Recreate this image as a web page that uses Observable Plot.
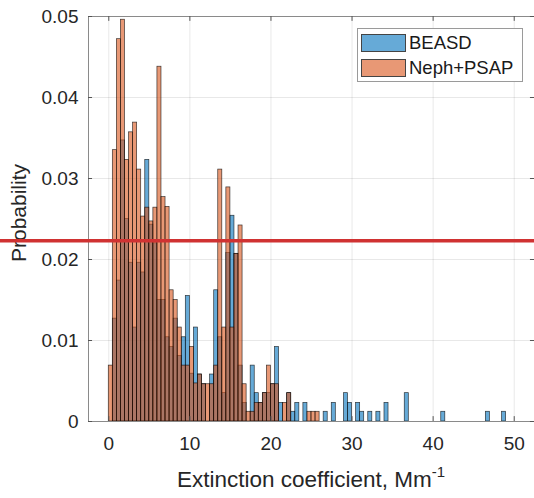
<!DOCTYPE html>
<html>
<head>
<meta charset="utf-8">
<script src="https://cdn.jsdelivr.net/npm/d3@7"></script>
<script src="https://cdn.jsdelivr.net/npm/@observablehq/plot@0.6"></script>
<style>
  html, body { margin: 0; padding: 0; background: #fff; }
  #wrap { position: relative; width: 534px; height: 498px; overflow: hidden; font-family: Arial, "Liberation Sans", sans-serif; }
  #legend { position: absolute; left: 357px; top: 28px; width: 164px; height: 52px; background: #fff; border: 1px solid #9a9a9a; }
  .row { position: absolute; left: 3px; height: 19px; display: flex; align-items: center; }
  .sw { width: 45px; height: 18px; border: 1px solid #444; box-sizing: border-box; margin-right: 3px; }
  .lab { font-size: 18.5px; color: #1a1a1a; white-space: nowrap; }
</style>
</head>
<body>
<div id="wrap"><div id="chart"></div>
  <div id="legend">
    <div class="row" style="top:4px"><div class="sw" id="sw0"></div><span class="lab" id="lab0"></span></div>
    <div class="row" style="top:29px"><div class="sw" id="sw1"></div><span class="lab" id="lab1"></span></div>
  </div>
</div>
<script>
// ---- data ----
const seriesNames = ["BEASD", "Neph+PSAP"];
const binWidth = 0.5;           // Mm^-1
const binStart = 0;
// probability per 0.5-wide bin, bins from 0 to 50
const beasd = [
  0, 0.0127, 0.0174, 0.0347, 0.0250, 0.0196, 0.0116, 0.0196, 0.0184, 0.0323,
  0.0243, 0.0220, 0.0150, 0.0150, 0.0104, 0.0092, 0.0127, 0.0081, 0.0104, 0.0155,
  0.0059, 0.0116, 0.0058, 0.0046, 0, 0.0058, 0.0162, 0.0104, 0.0035, 0.0208,
  0.0254, 0.0207, 0.0069, 0.0023, 0, 0.0069, 0.0035, 0.0023, 0.0035, 0.0035,
  0.0046, 0.0092, 0.0023, 0, 0.0035, 0.0012, 0.0023, 0, 0.0023, 0,
  0, 0, 0, 0.0012, 0, 0.0023, 0, 0, 0.0035, 0.0023,
  0, 0.0023, 0.0012, 0, 0.0012, 0, 0.0012, 0, 0.0023, 0,
  0, 0, 0, 0.0035, 0, 0, 0, 0, 0, 0,
  0, 0, 0.0012, 0, 0, 0, 0, 0, 0, 0,
  0, 0, 0, 0.0012, 0, 0, 0, 0.0012, 0, 0
];
const nephPsap = [
  0.0069, 0.0335, 0.0472, 0.0496, 0.0323, 0.0357, 0.0369, 0.0311, 0.0253, 0.0264,
  0.0247, 0.0264, 0.0438, 0.0277, 0.0265, 0.0162, 0.0150, 0.0116, 0.0069, 0.0069,
  0.0092, 0.0047, 0.0058, 0.0046, 0.0046, 0.0046, 0.0069, 0.0311, 0.0116, 0.0289,
  0.0116, 0.0207, 0.0242, 0.0046, 0.0012, 0.0012, 0.0023, 0.0023, 0.0035, 0.0069,
  0.0046, 0.0046, 0, 0.0023, 0.0035, 0, 0, 0, 0, 0.0012,
  0.0012, 0.0012, 0, 0, 0, 0, 0, 0, 0, 0,
  0, 0, 0, 0, 0, 0, 0, 0, 0, 0,
  0, 0, 0, 0, 0, 0, 0, 0, 0, 0,
  0, 0, 0, 0, 0, 0, 0, 0, 0, 0,
  0, 0, 0, 0, 0, 0, 0, 0, 0, 0
];
const xTicks = [0, 10, 20, 30, 40, 50];
const yTicks = [0, 0.01, 0.02, 0.03, 0.04, 0.05];
const redLineValue = 0.0223;

// ---- build ----
const colors = ["#0072BD", "#D95319"];
const toRows = (vals, s) => vals.map((v, i) => ({
  series: s, x1: binStart + i * binWidth, x2: binStart + (i + 1) * binWidth, y: v
})).filter(d => d.y > 0);
const rowsB = toRows(beasd, seriesNames[0]);
const rowsN = toRows(nephPsap, seriesNames[1]);

const fontFam = 'Arial, "Liberation Sans", sans-serif';
const barStyle = (c) => ({ x1: "x1", x2: "x2", y: "y", fill: c, fillOpacity: 0.6, stroke: "#000", strokeOpacity: 0.75, strokeWidth: 0.7 });

const plot = Plot.plot({
  width: 534, height: 498,
  marginLeft: 88, marginRight: 0, marginTop: 16, marginBottom: 77,
  style: { fontFamily: fontFam, fontSize: "19px", color: "#262626", background: "#fff" },
  x: { domain: [-2.5, 52.5] },
  y: { domain: [0, 0.05] },
  marks: [
    Plot.gridX(xTicks, { stroke: "#000", strokeOpacity: 0.09 }),
    Plot.gridY(yTicks, { stroke: "#000", strokeOpacity: 0.09 }),
    Plot.rectY(rowsB, barStyle(colors[0])),
    Plot.rectY(rowsN, barStyle(colors[1])),
    Plot.frame({ stroke: "#8a8a8a", strokeWidth: 1 }),
    Plot.axisX(xTicks, { anchor: "bottom", tickSize: 0, tickPadding: 15, label: null, fill: "#262626" }),
    Plot.axisY(yTicks, { anchor: "left", tickSize: 0, tickPadding: 10, label: null, fill: "#262626",
      tickFormat: d => d === 0 ? "0" : d.toFixed(2) }),
    Plot.ruleX(xTicks, { x: d => d, y1: 0, y2: 0.0006, stroke: "#555" }),
    Plot.ruleX(xTicks, { x: d => d, y1: 0.0494, y2: 0.05, stroke: "#555" }),
    Plot.ruleY(yTicks, { y: d => d, x1: -2.5, x2: -2.0, stroke: "#555" }),
    Plot.ruleY(yTicks, { y: d => d, x1: 52.0, x2: 52.5, stroke: "#555" }),
    Plot.ruleY([redLineValue], { stroke: "#D03232", strokeWidth: 3.5, insetLeft: -88 })
  ]
});
document.getElementById("chart").appendChild(plot);

// axis titles as real text
const svg = d3.select(plot);
const xl = svg.append("text")
  .attr("x", 311).attr("y", 487)
  .attr("text-anchor", "middle")
  .attr("font-family", fontFam).attr("font-size", 22.5).attr("fill", "#262626");
xl.append("tspan").text("Extinction coefficient, Mm");
xl.append("tspan").attr("dy", -10).attr("font-size", 15).text("-1");

svg.append("text")
  .attr("transform", "translate(26,213) rotate(-90)")
  .attr("text-anchor", "middle")
  .attr("font-family", fontFam).attr("font-size", 21).attr("fill", "#262626")
  .text("Probability");

// keep red rule on top of everything
svg.selectAll('g[aria-label="rule"]').filter(function() {
  return d3.select(this).attr("stroke") === "#D03232" || d3.select(this).select("line").attr("stroke") === "#D03232";
}).raise();

// legend
function blend(hex) {
  const c = d3.rgb(hex);
  return d3.rgb(255 * 0.4 + c.r * 0.6, 255 * 0.4 + c.g * 0.6, 255 * 0.4 + c.b * 0.6).formatHex();
}
document.getElementById("sw0").style.background = blend(colors[0]);
document.getElementById("sw1").style.background = blend(colors[1]);
document.getElementById("lab0").textContent = seriesNames[0];
document.getElementById("lab1").textContent = seriesNames[1];
</script>
</body>
</html>
